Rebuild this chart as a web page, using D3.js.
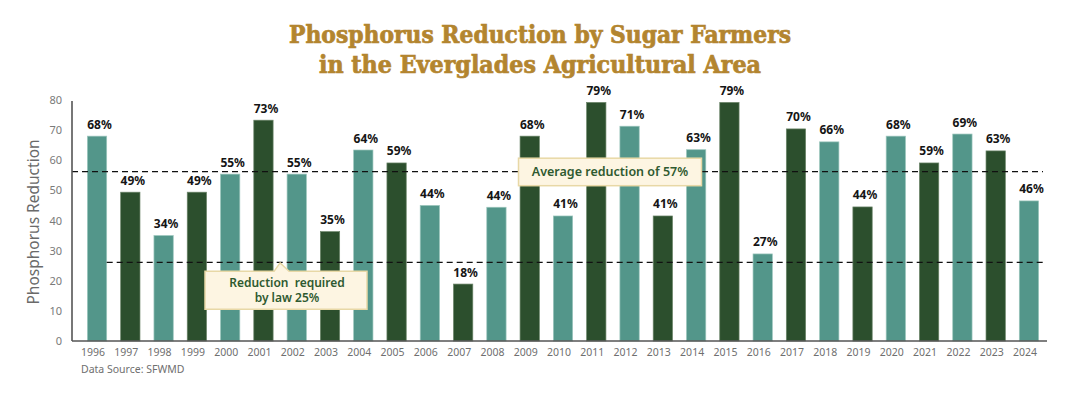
<!DOCTYPE html>
<html>
<head>
<meta charset="utf-8">
<script src="https://cdn.jsdelivr.net/npm/d3@7"></script>
<style>
  body { margin: 0; background: #fff; }
  svg { display: block; }
</style>
</head>
<body>
<div id="chart"></div>
<script>
// data
const years = ["1996","1997","1998","1999","2000","2001","2002","2003","2004","2005",
  "2006","2007","2008","2009","2010","2011","2012","2013","2014","2015",
  "2016","2017","2018","2019","2020","2021","2022","2023","2024"]
// bar heights as drawn
const barValues = [68, 49.4, 35, 49.4, 55.4, 73.3, 55.4, 36.3, 63.4, 59.1,
  45, 18.9, 44.4, 68, 41.5, 79.2, 71.3, 41.5, 63.5, 79.2,
  28.9, 70.4, 66.1, 44.5, 68, 59.1, 68.7, 63.1, 46.5]
// labels printed above the bars
const barLabels = ["68%","49%","34%","49%","55%","73%","55%","35%","64%","59%",
  "44%","18%","44%","68%","41%","79%","71%","41%","63%","79%",
  "27%","70%","66%","44%","68%","59%","69%","63%","46%"]
const yTicks = [0, 10, 20, 30, 40, 50, 60, 70, 80]
const avgLineValue = 56.2
const lawLineValue = 26.1
const titleLines = ["Phosphorus Reduction by Sugar Farmers", "in the Everglades Agricultural Area"]

const W = 1080, H = 399
const TEAL = "#53968a", DARK = "#2c4f2d"

const svg = d3.select("#chart").append("svg")
  .attr("width", W).attr("height", H)

const x = d3.scaleBand()
  .domain(years)
  .range([80.4, 1045.6])
  .paddingInner(0.42)
  .paddingOuter(0.21)

const y = d3.scaleLinear()
  .domain([0, 80])
  .range([341, 100])

// title
svg.append("g").selectAll("text")
  .data(titleLines)
  .join("text")
  .attr("x", 540)
  .attr("y", (d, i) => 43 + i * 29.5)
  .attr("text-anchor", "middle")
  .attr("font-family", "DejaVu Serif Condensed, DejaVu Serif")
  .attr("font-weight", "bold")
  .attr("font-size", 25)
  .attr("fill", "#b3852f")
  .attr("stroke", "#b3852f")
  .attr("stroke-width", 0.7)
  .attr("textLength", (d, i) => i == 0 ? 502 : 442)
  .attr("lengthAdjust", "spacingAndGlyphs")
  .text(d => d)

// bars
svg.append("g").selectAll("rect")
  .data(barValues)
  .join("rect")
  .attr("x", (d, i) => x(years[i]))
  .attr("y", d => y(d))
  .attr("width", x.bandwidth())
  .attr("height", d => y(0) - y(d))
  .attr("fill", (d, i) => i % 2 == 0 ? TEAL : DARK)
  .attr("stroke", (d, i) => i % 2 == 0 ? "#9cc6bd" : "#6b8569")
  .attr("stroke-width", 0.7)

// value labels
svg.append("g").selectAll("text")
  .data(barLabels)
  .join("text")
  .attr("x", (d, i) => x(years[i]) + x.bandwidth() / 2 + 2.5)
  .attr("y", (d, i) => y(barValues[i]) - 7.5)
  .attr("text-anchor", "middle")
  .attr("font-family", "Noto Sans")
  .attr("font-weight", "bold")
  .attr("font-size", 12)
  .attr("fill", "#151515")
  .text(d => d)

// dashed reference lines (drawn over the bars)
svg.append("line")
  .attr("x1", 72).attr("x2", 1043)
  .attr("y1", y(avgLineValue)).attr("y2", y(avgLineValue))
  .attr("stroke", "#111").attr("stroke-width", 1.3)
  .attr("stroke-dasharray", "6,4")
svg.append("line")
  .attr("x1", x(years[0]) + x.bandwidth()).attr("x2", 1043)
  .attr("y1", y(lawLineValue)).attr("y2", y(lawLineValue))
  .attr("stroke", "#111").attr("stroke-width", 1.3)
  .attr("stroke-dasharray", "6,4")

// axes
const yAxis = svg.append("g")
  .attr("transform", "translate(72,0)")
  .call(d3.axisLeft(y).tickValues(yTicks).tickSize(0).tickPadding(10))
yAxis.select(".domain").attr("stroke", "#555").attr("stroke-width", 1.6)
  .attr("d", `M0,${y(80) + 1}V${y(0)}`)
yAxis.selectAll("text")
  .attr("font-family", "Noto Sans").attr("font-size", 11).attr("fill", "#7a7a7a")

const xAxis = svg.append("g")
  .attr("transform", `translate(0,${y(0)})`)
  .call(d3.axisBottom(x).tickSize(0).tickPadding(8))
xAxis.select(".domain").attr("stroke", "#555").attr("stroke-width", 1.6)
  .attr("d", "M72,0H1047")
xAxis.selectAll("text")
  .attr("dx", -4)
  .attr("font-family", "Noto Sans").attr("font-size", 10.5).attr("fill", "#6f6f6f")

svg.append("text")
  .attr("transform", "translate(39,222) rotate(-90)")
  .attr("text-anchor", "middle")
  .attr("font-family", "Noto Sans")
  .attr("font-size", 15.5)
  .attr("fill", "#6a6a6a")
  .text("Phosphorus Reduction")

svg.append("text")
  .attr("x", 81).attr("y", 373)
  .attr("font-family", "Noto Sans")
  .attr("font-size", 10.5)
  .attr("fill", "#6f6f6f")
  .text("Data Source: SFWMD")

// callouts
const BOX_FILL = "#fdf5e2", BOX_STROKE = "#e8d8a6", BOX_TEXT = "#2f5a30"

// average callout, centred on the average line
const avgY = y(avgLineValue)
svg.append("rect")
  .attr("x", 518.5).attr("y", avgY - 13.5)
  .attr("width", 183).attr("height", 27.5)
  .attr("fill", BOX_FILL).attr("stroke", BOX_STROKE).attr("stroke-width", 1.5)
svg.append("text")
  .attr("x", 610).attr("y", avgY + 4.8)
  .attr("text-anchor", "middle")
  .attr("font-family", "Noto Sans").attr("font-weight", 600)
  .attr("font-size", 12.5).attr("fill", BOX_TEXT)
  .text("Average reduction of 57%")

// law callout, pointing up at the law line
const lawY = y(lawLineValue)
const tipX = (x("2001") + x("2002") + x.bandwidth()) / 2
const boxTop = lawY + 9
svg.append("path")
  .attr("d", `M205,${boxTop}H${tipX - 6}L${tipX},${lawY + 0.5}L${tipX + 9},${boxTop}H367V${boxTop + 38}H205Z`)
  .attr("fill", BOX_FILL).attr("stroke", BOX_STROKE).attr("stroke-width", 1.5)
svg.append("g").selectAll("text")
  .data(["Reduction\u00a0 required", "by law 25%"])
  .join("text")
  .attr("x", 287)
  .attr("y", (d, i) => boxTop + 15.5 + i * 15)
  .attr("text-anchor", "middle")
  .attr("font-family", "Noto Sans").attr("font-weight", 600)
  .attr("font-size", 12).attr("fill", BOX_TEXT)
  .text(d => d)
</script>
</body>
</html>
